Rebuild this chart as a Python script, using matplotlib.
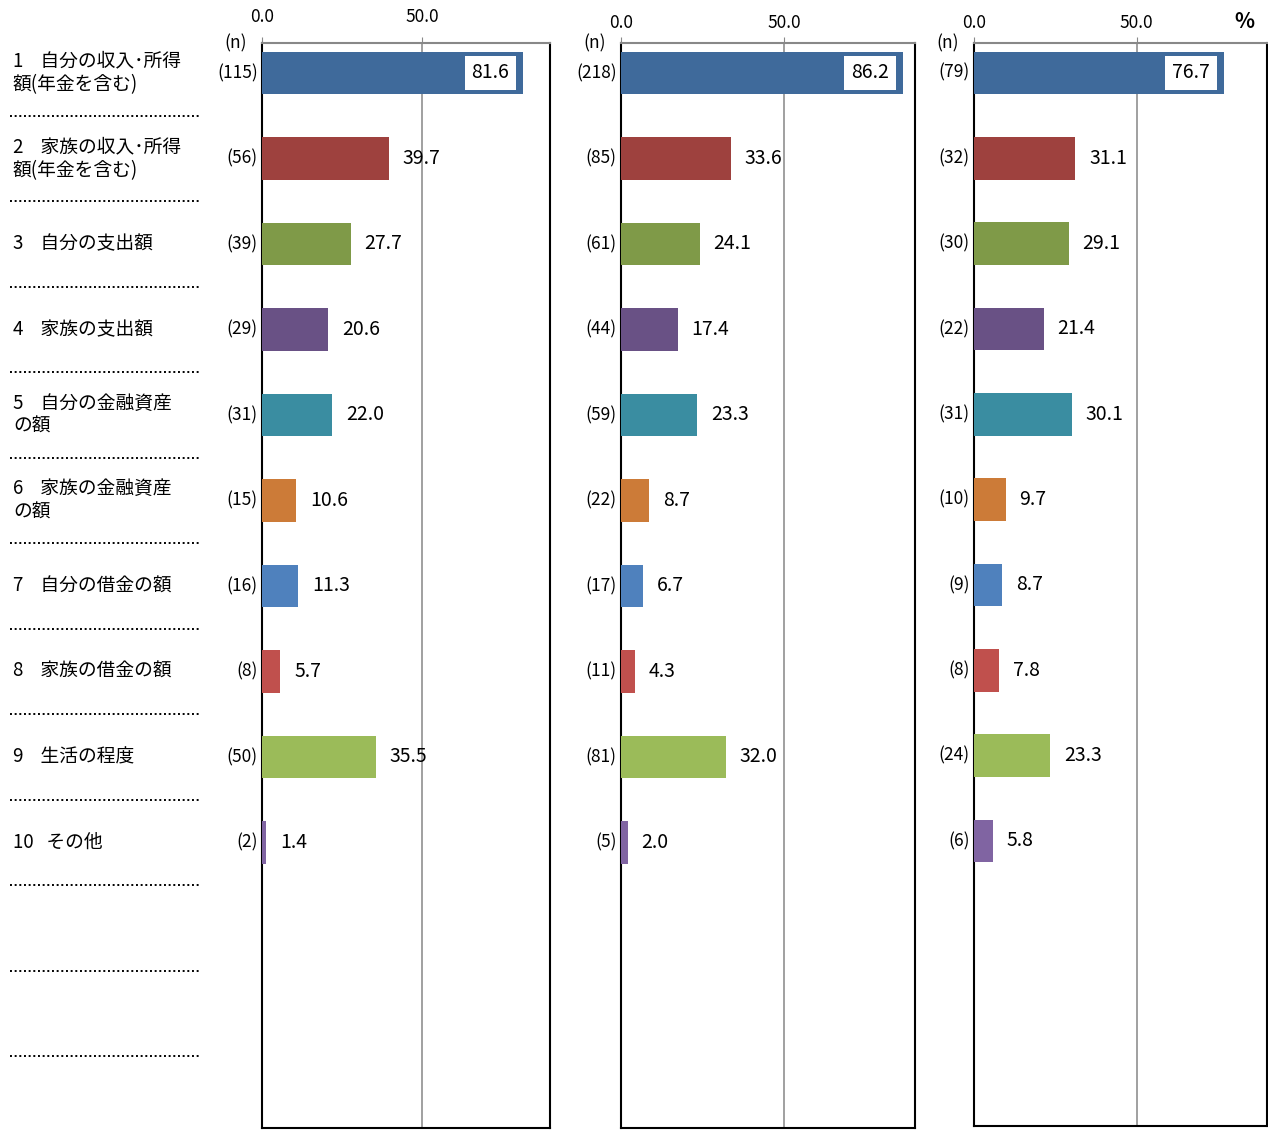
import numpy as np
import matplotlib
matplotlib.use('Agg')
import matplotlib.pyplot as plt

plt.rcParams['font.family'] = ['Noto Sans CJK JP', 'DejaVu Sans']

labels = [
    '1    自分の収入･所得\n額(年金を含む)',
    '2    家族の収入･所得\n額(年金を含む)',
    '3    自分の支出額',
    '4    家族の支出額',
    '5    自分の金融資産\nの額',
    '6    家族の金融資産\nの額',
    '7    自分の借金の額',
    '8    家族の借金の額',
    '9    生活の程度',
    '10   その他',
]
colors = ['#3F6A9B', '#9E413E', '#7F9A48', '#695185', '#3A8DA1',
          '#CC7B38', '#4F81BD', '#C0504D', '#9BBB59', '#8064A2']

n1 = [115, 56, 39, 29, 31, 15, 16, 8, 50, 2]
v1 = [81.6, 39.7, 27.7, 20.6, 22.0, 10.6, 11.3, 5.7, 35.5, 1.4]
n2 = [218, 85, 61, 44, 59, 22, 17, 11, 81, 5]
v2 = [86.2, 33.6, 24.1, 17.4, 23.3, 8.7, 6.7, 4.3, 32.0, 2.0]
n3 = [79, 32, 30, 22, 31, 10, 9, 8, 24, 6]
v3 = [76.7, 31.1, 29.1, 21.4, 30.1, 9.7, 8.7, 7.8, 23.3, 5.8]

n_slots = 13
W, H = 1268, 1142
fig = plt.figure(figsize=(W / 100, H / 100), dpi=100)

ylim = (12.34, -0.35)


def px_box(x0, x1, y0, y1):
    return [x0 / W, 1 - y1 / H, (x1 - x0) / W, (y1 - y0) / H]


# label column on the left
lax = fig.add_axes(px_box(0, 262, 43, 1128))
lax.set_xlim(0, 262)
lax.set_ylim(*ylim)
lax.axis('off')
for i, lab in enumerate(labels):
    lax.text(13, i, lab, ha='left', va='center', fontsize=13.5,
             linespacing=1.15)
for k in range(n_slots - 1):
    lax.plot([10, 200], [k + 0.5, k + 0.5], color='black', lw=1.4,
             linestyle=(0, (1, 1.4)), solid_capstyle='butt')


def panel(box, vals, ns, tick_pad):
    ax = fig.add_axes(px_box(*box))
    y = np.arange(len(vals))
    ax.barh(y, vals, height=0.5, color=colors, zorder=3)
    ax.set_xlim(0, 90)
    ax.set_ylim(*ylim)
    ax.set_yticks([])
    ax.set_xticks([0, 50])
    ax.set_xticklabels(['0.0', '50.0'])
    ax.xaxis.tick_top()
    ax.tick_params(axis='x', direction='out', length=4, color='#888888',
                   labelsize=12.5, pad=tick_pad)
    ax.axvline(50, color='#999999', lw=1.3, zorder=1)
    for s in ['left', 'right', 'bottom']:
        ax.spines[s].set_color('black')
        ax.spines[s].set_linewidth(1.5)
    ax.spines['top'].set_color('#888888')
    ax.spines['top'].set_linewidth(1.5)

    for i, (v, n) in enumerate(zip(vals, ns)):
        ax.annotate('(%d)' % n, xy=(0, i), xytext=(-3, 0),
                    textcoords='offset points', ha='right', va='center',
                    fontsize=12.5)
        if i == 0:
            ax.annotate('%.1f' % v, xy=(v, i), xytext=(-10, 0),
                        textcoords='offset points', ha='right', va='center',
                        fontsize=14, zorder=5,
                        bbox=dict(boxstyle='square,pad=0.35', fc='white',
                                  ec='none'))
        else:
            ax.annotate('%.1f' % v, xy=(v, i), xytext=(10, 0),
                        textcoords='offset points', ha='left', va='center',
                        fontsize=14)
    ax.annotate('(n)', xy=(0, 1), xycoords='axes fraction',
                xytext=(-19, 0), textcoords='offset points',
                ha='center', va='center', fontsize=12.5)
    return ax


panel((262, 550, 43, 1128), v1, n1, 8)
panel((621, 915, 43, 1128), v2, n2, 4)
panel((974, 1267, 43, 1126), v3, n3, 4)

fig.text(1244 / W, 1 - 22 / H, '%', ha='center', va='center',
         fontsize=15, fontweight='bold')

fig.savefig('out.png', dpi=100)
